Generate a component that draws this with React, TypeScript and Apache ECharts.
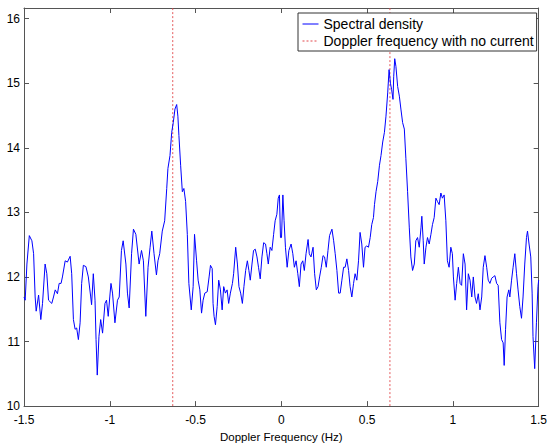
import React, { useEffect, useRef } from "react";
import * as echarts from "echarts";

// Spectral density: [Doppler frequency (Hz), value]
const spectralDensity: [number, number][] = [
  [-1.5, 11.69], [-1.493, 11.64], [-1.483, 12.2], [-1.469, 12.64], [-1.454, 12.56], [-1.444, 12.36], [-1.435, 11.69], [-1.429, 11.47], [-1.415, 11.72], [-1.402, 11.34],
  [-1.392, 11.59], [-1.377, 12.2], [-1.367, 12.05], [-1.357, 11.64], [-1.338, 11.59], [-1.328, 11.69], [-1.318, 11.8], [-1.305, 11.74], [-1.295, 11.9], [-1.284, 11.9],
  [-1.276, 12.0], [-1.26, 12.25], [-1.247, 12.23], [-1.231, 12.32], [-1.222, 12.05], [-1.212, 11.34], [-1.202, 11.19], [-1.193, 11.21], [-1.183, 11.03], [-1.173, 11.29],
  [-1.164, 11.9], [-1.154, 12.18], [-1.139, 12.16], [-1.125, 12.0], [-1.111, 11.69], [-1.106, 11.57], [-1.096, 12.05], [-1.086, 11.64], [-1.08, 11.03], [-1.073, 10.48],
  [-1.063, 11.08], [-1.053, 11.34], [-1.042, 11.13], [-1.028, 11.59], [-1.019, 11.64], [-1.009, 11.39], [-1.0, 11.69], [-0.993, 11.9], [-0.984, 11.75], [-0.97, 11.29],
  [-0.955, 11.64], [-0.945, 11.69], [-0.932, 12.41], [-0.922, 12.56], [-0.906, 12.2], [-0.897, 11.75], [-0.887, 11.52], [-0.873, 12.36], [-0.862, 12.74], [-0.848, 12.66],
  [-0.829, 12.2], [-0.815, 12.41], [-0.804, 12.25], [-0.79, 11.39], [-0.777, 12.15], [-0.765, 12.46], [-0.755, 12.71], [-0.742, 12.36], [-0.728, 12.03], [-0.719, 12.25],
  [-0.709, 12.36], [-0.694, 12.71], [-0.68, 12.87], [-0.668, 13.37], [-0.661, 13.68], [-0.649, 13.88], [-0.639, 14.24], [-0.63, 14.39], [-0.62, 14.6], [-0.61, 14.67],
  [-0.603, 14.49], [-0.597, 14.19], [-0.587, 13.73], [-0.577, 13.32], [-0.568, 13.37], [-0.558, 13.17], [-0.548, 12.66], [-0.539, 11.9], [-0.525, 11.49], [-0.514, 11.85],
  [-0.506, 12.66], [-0.494, 12.25], [-0.485, 11.95], [-0.475, 11.8], [-0.465, 11.44], [-0.456, 11.64], [-0.446, 11.75], [-0.432, 11.77], [-0.421, 12.0], [-0.413, 12.18],
  [-0.403, 12.13], [-0.398, 11.59], [-0.392, 11.39], [-0.384, 11.26], [-0.374, 11.54], [-0.365, 11.95], [-0.355, 11.8], [-0.345, 11.49], [-0.336, 11.85], [-0.326, 11.75],
  [-0.316, 11.8], [-0.307, 11.59], [-0.297, 11.75], [-0.285, 11.9], [-0.278, 12.05], [-0.266, 12.46], [-0.256, 12.2], [-0.247, 11.85], [-0.237, 11.75], [-0.227, 11.59],
  [-0.218, 11.85], [-0.208, 12.1], [-0.198, 12.25], [-0.189, 12.1], [-0.181, 11.95], [-0.171, 12.2], [-0.162, 12.41], [-0.152, 12.43], [-0.142, 12.31], [-0.133, 12.15],
  [-0.123, 11.97], [-0.113, 12.31], [-0.103, 12.53], [-0.092, 12.51], [-0.084, 12.36], [-0.076, 12.2], [-0.065, 12.46], [-0.055, 12.41], [-0.045, 12.66], [-0.036, 12.87],
  [-0.026, 12.97], [-0.018, 13.22], [-0.011, 13.27], [-0.005, 12.61], [0.001, 12.61], [0.009, 13.27], [0.016, 12.87], [0.024, 12.46], [0.034, 12.15], [0.044, 12.41],
  [0.057, 12.51], [0.067, 12.36], [0.076, 12.15], [0.086, 12.25], [0.096, 12.05], [0.105, 11.85], [0.115, 12.2], [0.125, 12.25], [0.134, 12.1], [0.144, 12.36],
  [0.156, 12.58], [0.163, 12.36], [0.173, 12.31], [0.185, 12.46], [0.194, 12.05], [0.204, 11.8], [0.214, 11.85], [0.223, 12.0], [0.233, 12.15], [0.243, 12.33],
  [0.252, 12.31], [0.262, 12.15], [0.272, 12.41], [0.281, 12.64], [0.295, 12.74], [0.305, 12.56], [0.314, 12.36], [0.324, 12.1], [0.334, 11.75], [0.343, 11.75],
  [0.353, 11.95], [0.363, 12.15], [0.372, 12.15], [0.382, 12.28], [0.392, 12.1], [0.401, 11.85], [0.411, 11.69], [0.421, 11.9], [0.43, 12.05], [0.44, 11.95],
  [0.45, 12.25], [0.459, 12.69], [0.469, 12.51], [0.479, 12.15], [0.488, 12.46], [0.498, 12.48], [0.508, 12.46], [0.518, 12.61], [0.527, 12.81], [0.537, 12.92],
  [0.543, 13.12], [0.552, 13.32], [0.562, 13.48], [0.572, 13.73], [0.581, 13.88], [0.591, 14.09], [0.601, 14.24], [0.61, 14.49], [0.62, 14.85], [0.628, 15.21],
  [0.636, 15.0], [0.643, 14.9], [0.651, 14.75], [0.655, 15.1], [0.661, 15.38], [0.668, 15.26], [0.678, 14.95], [0.688, 14.8], [0.697, 14.6], [0.707, 14.39],
  [0.717, 14.29], [0.726, 13.83], [0.736, 13.32], [0.746, 12.76], [0.755, 12.31], [0.765, 12.1], [0.775, 12.2], [0.784, 12.56], [0.794, 12.61], [0.804, 12.46],
  [0.814, 12.76], [0.819, 12.94], [0.827, 12.56], [0.833, 12.2], [0.843, 12.46], [0.852, 12.61], [0.862, 12.51], [0.872, 12.66], [0.881, 12.81], [0.891, 12.92],
  [0.901, 13.22], [0.91, 13.17], [0.92, 13.12], [0.93, 13.3], [0.939, 13.22], [0.949, 13.27], [0.959, 12.87], [0.968, 12.25], [0.978, 12.15], [0.988, 12.46],
  [0.997, 12.36], [1.003, 12.0], [1.013, 11.64], [1.022, 11.9], [1.032, 12.15], [1.042, 11.9], [1.051, 11.87], [1.061, 12.36], [1.071, 12.2], [1.08, 11.49],
  [1.09, 12.05], [1.1, 11.95], [1.11, 11.69], [1.119, 12.0], [1.129, 11.69], [1.138, 11.59], [1.148, 11.74], [1.158, 11.49], [1.168, 11.69], [1.177, 12.15],
  [1.187, 12.33], [1.197, 12.15], [1.206, 11.95], [1.216, 11.9], [1.226, 11.98], [1.235, 12.0], [1.245, 12.02], [1.255, 11.9], [1.264, 11.87], [1.274, 11.29],
  [1.284, 11.03], [1.293, 10.98], [1.299, 10.63], [1.307, 11.19], [1.316, 11.69], [1.326, 11.8], [1.332, 11.69], [1.342, 11.95], [1.351, 12.15], [1.361, 12.36],
  [1.371, 12.05], [1.38, 11.8], [1.39, 11.54], [1.4, 11.36], [1.409, 11.69], [1.419, 12.2], [1.429, 12.61], [1.435, 12.71], [1.444, 12.51], [1.454, 12.31],
  [1.462, 11.75], [1.467, 11.08], [1.477, 10.58], [1.487, 11.29], [1.496, 11.85], [1.5, 11.95],
];

// Doppler frequencies with no current (Hz)
const dopplerFreqs = [-0.633, 0.633];

// Axis ranges
const xRange = { min: -1.5, max: 1.5, interval: 0.5 };
const yRange = { min: 10, max: 16.165, interval: 1 };

const FONT = "'Liberation Sans', Arial, Helvetica, sans-serif";
const AXIS_COLOR = "#555";
const BLUE = "#0000ff";
const RED = "#e2474b";

export default function App() {
  const ref = useRef<HTMLDivElement>(null);

  useEffect(() => {
    if (!ref.current) return;
    const chart = echarts.init(ref.current, null, { renderer: "svg" });

    const yLabelFmt = (v: number) =>
      Math.abs(v - Math.round(v)) < 1e-6 ? String(Math.round(v)) : "";
    const xLabelFmt = (v: number) => {
      const r = Math.round(v * 2) / 2;
      if (Math.abs(v - r) > 1e-6) return "";
      return String(r);
    };

    const baseAxisLine = { show: true, onZero: false, lineStyle: { color: AXIS_COLOR, width: 1 } };
    const baseTick = { show: true, inside: true, length: 5, lineStyle: { color: AXIS_COLOR } };

    // vertical reference lines built from dopplerFreqs, separated by gaps
    const dopplerData: any[] = [];
    dopplerFreqs.forEach((f, i) => {
      if (i > 0) dopplerData.push([f, "-"]);
      dopplerData.push([f, yRange.min]);
      dopplerData.push([f, yRange.max]);
    });

    chart.setOption({
      animation: false,
      backgroundColor: "#fff",
      grid: { left: 24, right: 9, top: 8, bottom: 37, containLabel: false },
      legend: {
        orient: "vertical",
        left: 298,
        top: 13,
        padding: [4, 3, 3, 4],
        itemWidth: 16,
        itemHeight: 14,
        itemGap: 3,
        borderColor: "#333",
        borderWidth: 1,
        backgroundColor: "#fff",
        textStyle: { fontFamily: FONT, fontSize: 14, color: "#000", lineHeight: 14 },
        itemStyle: { opacity: 0 },
        lineStyle: { width: 1 },
        data: ["Spectral density", "Doppler frequency with no current"],
      },
      xAxis: [
        {
          type: "value",
          ...xRange,
          name: "Doppler Frequency (Hz)",
          nameLocation: "middle",
          nameGap: 21,
          nameTextStyle: { fontFamily: FONT, fontSize: 11.5, color: "#000" },
          axisLine: baseAxisLine,
          axisTick: baseTick,
          splitLine: { show: false },
          axisLabel: { fontFamily: FONT, fontSize: 12, color: "#000", margin: 8, formatter: xLabelFmt },
        },
        {
          type: "value",
          position: "top",
          ...xRange,
          axisLine: baseAxisLine,
          axisTick: baseTick,
          splitLine: { show: false },
          axisLabel: { show: false },
        },
      ],
      yAxis: [
        {
          type: "value",
          ...yRange,
          axisLine: baseAxisLine,
          axisTick: baseTick,
          splitLine: { show: false },
          axisLabel: { fontFamily: FONT, fontSize: 12, color: "#000", margin: 4, formatter: yLabelFmt, showMaxLabel: false },
        },
        {
          type: "value",
          position: "right",
          ...yRange,
          axisLine: baseAxisLine,
          axisTick: baseTick,
          splitLine: { show: false },
          axisLabel: { show: false },
        },
      ],
      series: [
        {
          name: "Doppler frequency with no current",
          type: "line",
          xAxisIndex: 0,
          yAxisIndex: 0,
          data: dopplerData,
          connectNulls: false,
          showSymbol: false,
          symbol: "none",
          lineStyle: { color: RED, width: 0.9, type: [2, 2] },
          itemStyle: { color: RED },
          z: 2,
        },
        {
          name: "Spectral density",
          type: "line",
          xAxisIndex: 0,
          yAxisIndex: 0,
          data: spectralDensity,
          showSymbol: false,
          symbol: "none",
          lineStyle: { color: BLUE, width: 1 },
          itemStyle: { color: BLUE },
          z: 3,
        },
      ],
    });

    return () => chart.dispose();
  }, []);

  return (
    <div
      ref={ref}
      style={{ position: "absolute", left: 0, top: 0, width: 550, height: 448 }}
    />
  );
}
